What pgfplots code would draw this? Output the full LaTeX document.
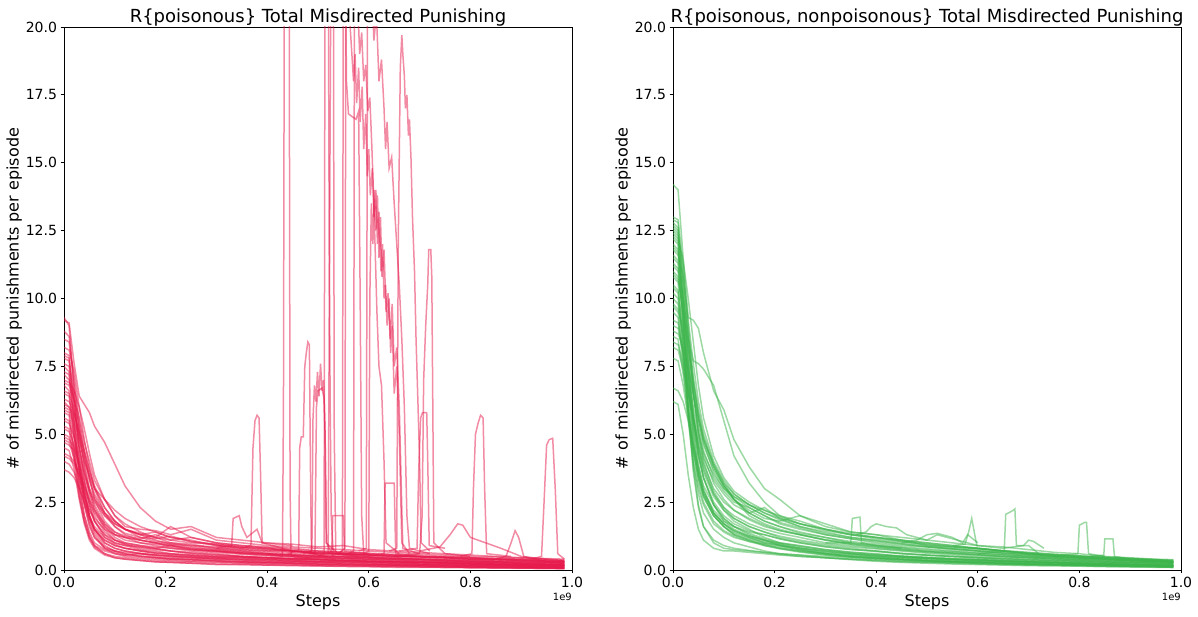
\documentclass[border=0pt]{standalone}
\usepackage{fontspec}
\setmainfont{DejaVu Sans}
\usepackage{pgfplots}
\usepackage{pgfplotstable}
\pgfplotsset{compat=1.18}
\definecolor{lred}{HTML}{E6194B}
\definecolor{lgreen}{HTML}{3CB44B}

\pgfplotstableread[header=true]{
name 0 0.01 0.02 0.03 0.04 0.05 0.06 0.08 0.10 0.12 0.15 0.18 0.21 0.25 0.30 0.35 0.40 0.45 0.50 0.55 0.60 0.65 0.70 0.75 0.80 0.85 0.90 0.95 0.985
L1 9.2 9.1 7.6 6.4 6.1 5.8 5.3 4.7 3.9 3.1 2.3 1.8 1.5 1.6 1.2 1.1 1.0 0.95 0.85 0.9 0.75 0.7 0.65 0.6 0.55 0.5 0.45 0.42 0.4
L2 8.0 7.9 6.0 4.5 3.6 3.0 2.6 2.1 1.8 1.5 1.3 1.4 1.2 1.1 0.9 0.8 0.75 0.7 0.6 0.55 0.5 0.45 0.4 0.35 0.3 0.3 0.25 0.2 0.18
L3 7.5 7.3 5.2 3.6 2.6 1.9 1.5 1.1 0.9 0.8 0.7 0.62 0.55 0.5 0.45 0.42 0.38 0.35 0.32 0.3 0.28 0.25 0.22 0.2 0.18 0.17 0.15 0.12 0.1
L4 6.8 6.6 4.8 3.2 2.0 1.3 0.9 0.6 0.5 0.45 0.4 0.35 0.32 0.3 0.27 0.25 0.22 0.2 0.18 0.17 0.15 0.14 0.12 0.11 0.1 0.09 0.08 0.07 0.06
L5 6.2 6.0 5.5 4.8 4.0 3.5 3.0 2.6 2.2 1.9 1.6 1.4 1.2 1.05 0.95 0.85 0.8 0.7 0.65 0.6 0.55 0.5 0.5 0.45 0.4 0.38 0.35 0.3 0.3
L6 5.8 5.7 4.3 2.8 1.8 1.2 0.9 0.7 0.6 0.55 0.6 0.5 0.45 0.42 0.4 0.35 0.3 0.3 0.28 0.25 0.22 0.2 0.2 0.18 0.15 0.15 0.12 0.1 0.1
L7 5.2 5.1 4.6 3.9 3.2 2.4 1.8 1.3 1.0 0.9 0.85 0.8 0.9 0.75 0.7 0.6 0.55 0.5 0.45 0.42 0.4 0.38 0.35 0.32 0.3 0.28 0.25 0.22 0.2
L8 4.7 4.6 4.4 3.8 3.0 2.0 1.4 0.9 0.7 0.6 0.5 0.45 0.4 0.38 0.35 0.3 0.28 0.25 0.22 0.2 0.18 0.17 0.15 0.14 0.12 0.1 0.1 0.08 0.07
L9 4.2 4.1 3.9 3.5 3.0 2.5 2.1 1.6 1.3 1.1 1.0 0.95 0.9 0.8 0.75 0.65 0.6 0.55 0.5 0.48 0.45 0.4 0.38 0.35 0.32 0.3 0.28 0.25 0.22
L10 3.7 3.6 3.4 3.0 2.5 1.8 1.3 0.8 0.6 0.5 0.45 0.4 0.36 0.32 0.3 0.26 0.24 0.22 0.2 0.18 0.16 0.15 0.14 0.12 0.1 0.1 0.08 0.07 0.06
L11 7.8 7.7 6.5 5.0 3.8 2.9 2.3 1.6 1.2 1.0 0.9 0.8 0.7 0.65 0.6 0.5 0.45 0.42 0.4 0.38 0.35 0.32 0.3 0.28 0.25 0.22 0.2 0.18 0.16
L12 6.5 6.4 5.0 3.7 2.7 2.0 1.6 1.2 1.0 0.9 0.75 0.7 0.6 0.55 0.5 0.46 0.42 0.4 0.38 0.35 0.32 0.3 0.28 0.25 0.22 0.2 0.2 0.18 0.15
L13 5.5 5.4 4.9 4.2 3.5 2.9 2.5 2.0 1.7 1.5 1.3 1.1 0.95 0.85 0.75 0.7 0.6 0.55 0.5 0.45 0.42 0.4 0.38 0.35 0.3 0.28 0.25 0.22 0.2
L14 7.2 7.0 6.3 5.6 4.7 4.0 3.3 2.6 2.0 1.7 1.4 1.2 1.0 0.9 0.8 0.7 0.65 0.6 0.55 0.5 0.48 0.45 0.42 0.4 0.36 0.33 0.3 0.28 0.25
L15 4.5 4.4 3.7 2.6 1.7 1.1 0.8 0.55 0.45 0.4 0.35 0.3 0.28 0.25 0.2 0.2 0.18 0.16 0.15 0.13 0.12 0.1 0.1 0.09 0.08 0.07 0.06 0.05 0.05
L16 6.0 5.9 5.3 4.5 3.6 2.8 2.2 1.5 1.1 0.95 0.8 0.75 0.7 0.6 0.55 0.5 0.45 0.4 0.38 0.35 0.33 0.3 0.28 0.25 0.22 0.2 0.18 0.16 0.15
L17 8.5 8.4 6.8 5.2 4.1 3.3 2.7 2.0 1.6 1.3 1.1 1.0 0.85 0.75 0.7 0.62 0.58 0.55 0.5 0.48 0.45 0.42 0.4 0.37 0.35 0.33 0.3 0.27 0.25
L18 5.0 4.9 4.2 3.3 2.5 1.9 1.5 1.1 0.9 0.8 0.72 0.65 0.6 0.55 0.5 0.48 0.45 0.42 0.4 0.35 0.32 0.3 0.28 0.26 0.24 0.22 0.2 0.18 0.17
L19 4.0 3.9 3.6 3.1 2.4 1.7 1.2 0.8 0.7 0.65 0.6 0.55 0.52 0.48 0.45 0.4 0.38 0.35 0.3 0.3 0.28 0.25 0.22 0.2 0.2 0.18 0.15 0.14 0.12
L20 7.0 6.9 6.6 6.0 5.2 4.3 3.5 2.6 2.0 1.6 1.5 1.45 1.3 1.5 1.1 1.0 0.9 0.85 0.8 0.75 0.7 0.65 0.6 0.55 0.5 0.48 0.45 0.4 0.35
L21 6.3 6.2 5.8 5.0 4.2 3.4 2.8 2.1 1.7 1.5 1.35 1.2 1.6 1.2 1.0 0.9 0.85 0.8 0.7 0.65 0.6 0.55 0.5 0.48 0.45 0.4 0.38 0.35 0.3
L22 5.6 5.5 4.4 3.0 2.0 1.4 1.0 0.75 0.65 0.55 0.5 0.45 0.4 0.37 0.33 0.3 0.27 0.25 0.22 0.2 0.2 0.18 0.16 0.15 0.13 0.12 0.1 0.1 0.08
L23 4.8 4.7 4.1 3.4 2.7 2.2 1.9 1.5 1.3 1.2 1.1 1.0 0.95 0.9 0.85 0.75 0.7 0.7 0.6 0.6 0.55 0.5 0.48 0.45 0.4 0.4 0.35 0.3 0.3
L24 8.8 8.6 7.0 5.5 4.4 3.6 3.0 2.3 1.8 1.5 1.2 1.05 1.0 0.95 0.8 0.75 0.7 0.65 0.6 0.58 0.55 0.5 0.48 0.45 0.4 0.38 0.35 0.32 0.3
L25 9.3 9.0 6.5 4.2 2.8 2.0 1.5 1.0 0.8 0.7 0.6 0.55 0.5 0.45 0.4 0.37 0.33 0.3 0.28 0.25 0.23 0.2 0.18 0.17 0.15 0.13 0.12 0.1 0.09
L26 7.9 7.8 5.6 3.9 2.9 2.2 1.8 1.3 1.1 1.0 0.9 0.85 0.8 0.7 0.65 0.58 0.52 0.48 0.45 0.42 0.4 0.36 0.33 0.3 0.27 0.25 0.22 0.2 0.18
L27 6.6 6.5 5.9 4.9 3.9 3.0 2.4 1.7 1.3 1.2 1.1 1.0 0.9 0.8 0.7 0.65 0.6 0.55 0.52 0.5 0.46 0.42 0.4 0.38 0.35 0.32 0.3 0.28 0.25
L28 5.3 5.2 4.0 2.7 1.8 1.2 0.85 0.6 0.45 0.4 0.35 0.3 0.28 0.25 0.22 0.2 0.18 0.17 0.15 0.14 0.13 0.12 0.11 0.1 0.09 0.08 0.07 0.06 0.05
L29 4.3 4.2 4.0 3.6 3.1 2.6 2.2 1.7 1.4 1.25 1.15 1.3 1.1 1.0 0.95 0.85 0.8 0.7 0.65 0.6 0.58 0.55 0.5 0.48 0.45 0.42 0.4 0.36 0.33
L30 7.6 7.5 6.2 4.6 3.3 2.4 1.8 1.2 0.95 0.8 0.7 0.62 0.58 0.52 0.48 0.45 0.4 0.37 0.34 0.32 0.3 0.28 0.26 0.24 0.22 0.2 0.18 0.16 0.15
L31 6.9 6.8 6.2 5.3 4.3 3.4 2.6 1.8 1.4 1.2 1.0 0.9 0.8 0.75 0.68 0.62 0.56 0.5 0.46 0.42 0.38 0.35 0.32 0.3 0.28 0.26 0.24 0.22 0.2
L32 5.9 5.8 4.9 3.8 2.8 2.0 1.5 1.0 0.8 0.7 0.62 0.56 0.5 0.46 0.42 0.38 0.35 0.32 0.3 0.28 0.26 0.24 0.22 0.2 0.18 0.17 0.15 0.14 0.13
L33 8.2 8.1 7.3 6.0 4.8 3.8 3.0 2.1 1.6 1.35 1.2 1.15 1.25 1.05 0.9 0.82 0.76 0.7 0.65 0.6 0.56 0.52 0.48 0.45 0.42 0.38 0.36 0.33 0.3
L34 4.9 4.8 4.5 4.0 3.3 2.6 2.0 1.4 1.1 0.95 0.85 0.78 0.7 0.62 0.56 0.5 0.46 0.42 0.38 0.35 0.32 0.3 0.28 0.26 0.24 0.22 0.2 0.18 0.16
L35 7.3 7.2 5.4 3.6 2.4 1.6 1.2 0.85 0.7 0.6 0.52 0.46 0.42 0.38 0.34 0.3 0.28 0.26 0.24 0.22 0.2 0.19 0.18 0.16 0.15 0.14 0.13 0.12 0.1
L36 6.1 6.0 5.7 5.1 4.4 3.7 3.1 2.3 1.8 1.5 1.3 1.2 1.1 1.2 1.0 0.9 0.82 0.75 0.7 0.66 0.62 0.58 0.55 0.5 0.46 0.42 0.4 0.36 0.33
}\Lraw
\pgfplotstabletranspose[colnames from=name]{\Lt}{\Lraw}

\pgfplotstableread[header=true]{
name 0 0.01 0.02 0.03 0.04 0.05 0.06 0.08 0.10 0.12 0.15 0.18 0.21 0.25 0.30 0.35 0.40 0.45 0.50 0.55 0.60 0.65 0.70 0.75 0.80 0.85 0.90 0.95 0.985
R1 14.2 14.0 11.5 9.3 9.2 8.9 8.0 6.6 5.9 4.8 3.8 3.0 2.6 2.0 1.7 1.4 1.3 1.1 1.0 0.9 0.8 0.7 0.6 0.55 0.5 0.45 0.4 0.35 0.3
R2 12.9 12.8 10.5 8.5 7.7 7.6 7.4 6.8 5.5 4.2 3.2 2.5 2.0 1.7 1.5 1.3 1.2 1.1 0.9 0.85 0.8 0.7 0.6 0.5 0.45 0.4 0.35 0.32 0.3
R3 12.8 12.6 9.5 6.0 3.8 2.4 1.6 1.0 0.8 0.75 0.7 0.65 0.6 0.55 0.5 0.45 0.4 0.35 0.3 0.28 0.25 0.22 0.2 0.2 0.18 0.15 0.15 0.12 0.1
R4 12.5 12.3 10.2 7.8 5.8 4.6 3.8 2.8 2.2 1.8 1.5 1.2 1.0 0.9 0.75 0.65 0.6 0.5 0.45 0.4 0.38 0.35 0.3 0.28 0.25 0.22 0.2 0.18 0.16
R5 12.0 11.8 10.0 8.2 6.8 5.6 4.8 3.8 3.1 2.6 2.1 1.8 1.6 1.35 1.2 1.0 0.9 0.8 0.7 0.65 0.6 0.55 0.5 0.45 0.4 0.38 0.35 0.3 0.28
R6 11.5 11.3 9.0 6.6 4.8 3.6 2.8 2.0 1.6 1.3 1.1 0.95 0.8 0.7 0.6 0.5 0.45 0.4 0.35 0.32 0.3 0.28 0.25 0.22 0.2 0.18 0.16 0.15 0.13
R7 11.0 10.8 9.5 8.0 6.5 5.2 4.4 3.4 2.9 2.5 2.3 2.0 1.7 1.5 1.3 1.15 1.0 0.9 0.85 0.75 0.7 0.62 0.55 0.5 0.45 0.4 0.36 0.32 0.3
R8 10.5 10.3 8.8 7.0 5.5 4.2 3.4 2.4 1.8 1.5 1.25 1.1 0.95 0.8 0.7 0.6 0.55 0.5 0.45 0.4 0.36 0.32 0.3 0.27 0.25 0.22 0.2 0.18 0.17
R9 10.0 9.8 8.5 7.2 6.0 5.0 4.3 3.5 3.0 2.7 2.4 2.2 2.0 1.8 1.5 1.3 1.2 1.05 0.95 0.85 0.8 0.7 0.62 0.55 0.5 0.45 0.4 0.36 0.32
R10 9.5 9.3 7.5 5.5 3.9 2.8 2.1 1.5 1.2 1.0 0.85 0.7 0.6 0.55 0.45 0.4 0.35 0.3 0.28 0.25 0.22 0.2 0.18 0.17 0.15 0.14 0.12 0.11 0.1
R11 9.0 8.9 8.0 6.8 5.6 4.5 3.7 2.8 2.3 2.0 1.7 1.5 1.35 1.2 1.0 0.9 0.8 0.72 0.65 0.6 0.55 0.5 0.45 0.4 0.36 0.33 0.3 0.27 0.25
R12 8.6 8.5 7.2 5.8 4.6 3.6 2.9 2.2 1.8 1.6 1.4 1.3 1.15 1.0 0.85 0.75 0.7 0.6 0.55 0.5 0.45 0.42 0.38 0.35 0.32 0.3 0.27 0.25 0.22
R13 8.2 8.1 7.4 6.5 5.6 4.8 4.1 3.3 2.8 2.4 2.1 2.3 1.9 1.6 1.4 1.2 1.1 1.0 0.9 0.8 0.75 0.68 0.6 0.55 0.5 0.45 0.42 0.38 0.35
R14 12.2 12.0 9.8 7.4 5.2 3.9 3.0 2.1 1.7 1.4 1.2 1.0 0.9 0.75 0.62 0.55 0.5 0.45 0.4 0.35 0.32 0.3 0.27 0.25 0.22 0.2 0.18 0.16 0.15
R15 6.7 6.6 6.2 5.5 4.6 3.8 3.1 2.4 1.9 1.6 1.3 1.1 0.9 0.75 0.6 0.5 0.45 0.4 0.35 0.3 0.28 0.25 0.22 0.2 0.18 0.16 0.15 0.13 0.12
R16 6.2 6.1 5.0 3.5 2.3 1.5 1.1 0.8 0.7 0.7 0.65 0.6 0.55 0.5 0.45 0.38 0.32 0.28 0.25 0.22 0.2 0.18 0.16 0.15 0.14 0.12 0.11 0.1 0.09
R17 11.8 11.6 10.8 9.2 7.6 6.2 5.2 4.0 3.3 2.8 2.4 2.1 1.9 1.7 1.5 1.35 1.2 1.1 1.0 0.9 0.8 0.72 0.65 0.58 0.52 0.48 0.43 0.38 0.35
R18 10.8 10.6 8.2 5.8 4.0 3.0 2.4 1.7 1.4 1.2 1.05 0.95 0.85 0.72 0.6 0.52 0.46 0.4 0.36 0.33 0.3 0.27 0.24 0.22 0.2 0.19 0.17 0.15 0.14
R19 9.8 9.6 8.8 7.6 6.4 5.4 4.6 3.7 3.1 2.7 2.3 2.0 1.75 1.55 1.3 1.15 1.05 0.95 0.85 0.78 0.7 0.62 0.56 0.5 0.45 0.42 0.38 0.34 0.3
R20 11.2 11.0 9.2 7.2 5.6 4.4 3.6 2.7 2.2 1.9 1.6 1.4 1.25 1.1 0.95 0.85 0.78 0.7 0.62 0.56 0.5 0.46 0.42 0.38 0.34 0.3 0.28 0.25 0.22
R21 7.8 7.7 6.8 5.6 4.4 3.4 2.7 2.0 1.6 1.3 1.1 0.9 0.78 0.66 0.55 0.48 0.42 0.37 0.33 0.3 0.27 0.24 0.22 0.2 0.18 0.16 0.15 0.13 0.12
R22 12.6 12.4 11.0 9.0 7.0 5.6 4.7 3.6 3.0 2.6 2.2 1.9 1.8 2.0 1.6 1.4 1.3 1.2 1.1 1.0 0.9 0.85 0.75 0.65 0.6 0.5 0.45 0.4 0.38
R23 10.2 10.0 8.0 6.0 4.4 3.4 2.7 2.0 1.6 1.35 1.15 1.0 0.9 0.8 0.65 0.58 0.5 0.45 0.42 0.38 0.35 0.32 0.3 0.27 0.25 0.23 0.2 0.18 0.16
R24 8.8 8.7 8.2 7.4 6.5 5.6 4.8 3.9 3.2 2.6 2.0 1.7 1.5 1.3 1.1 0.95 0.85 0.75 0.68 0.62 0.56 0.5 0.46 0.42 0.38 0.34 0.31 0.28 0.26
R25 13.0 12.9 11.2 8.8 6.6 5.0 4.0 2.9 2.3 1.9 1.6 1.4 1.2 1.05 0.9 0.8 0.7 0.62 0.55 0.5 0.45 0.4 0.36 0.33 0.3 0.27 0.25 0.22 0.2
R26 11.9 11.7 9.9 7.6 5.7 4.3 3.4 2.4 1.9 1.6 1.35 1.15 1.0 0.88 0.75 0.66 0.58 0.52 0.47 0.43 0.4 0.36 0.33 0.3 0.27 0.25 0.23 0.2 0.18
R27 10.9 10.7 9.6 8.2 6.9 5.8 4.9 3.8 3.1 2.6 2.1 1.8 1.6 1.4 1.2 1.05 0.95 0.85 0.78 0.7 0.64 0.58 0.52 0.48 0.44 0.4 0.36 0.33 0.3
R28 9.7 9.5 7.8 5.9 4.3 3.2 2.5 1.8 1.45 1.25 1.05 0.9 0.8 0.68 0.56 0.48 0.42 0.38 0.34 0.3 0.27 0.25 0.22 0.2 0.18 0.17 0.15 0.14 0.12
R29 12.7 12.5 10.6 8.4 6.5 5.1 4.2 3.2 2.6 2.2 1.85 1.6 1.45 1.3 1.1 0.95 0.85 0.76 0.68 0.62 0.56 0.5 0.46 0.42 0.38 0.35 0.32 0.3 0.27
R30 11.3 11.1 10.0 8.6 7.1 5.9 5.0 3.9 3.2 2.8 2.4 2.1 1.85 1.6 1.35 1.2 1.08 0.96 0.86 0.78 0.7 0.64 0.58 0.52 0.47 0.43 0.39 0.35 0.32
R31 10.4 10.2 8.4 6.3 4.6 3.5 2.8 2.1 1.7 1.45 1.25 1.1 0.98 0.85 0.72 0.62 0.55 0.5 0.45 0.41 0.38 0.35 0.32 0.29 0.26 0.24 0.22 0.2 0.18
R32 9.2 9.1 8.0 6.6 5.3 4.2 3.4 2.5 2.0 1.7 1.45 1.3 1.15 1.0 0.86 0.76 0.68 0.6 0.54 0.5 0.46 0.42 0.38 0.35 0.32 0.29 0.27 0.25 0.22
R33 12.3 12.1 9.0 5.8 3.6 2.3 1.6 1.1 0.9 0.8 0.72 0.65 0.58 0.5 0.45 0.4 0.36 0.32 0.3 0.27 0.25 0.22 0.2 0.19 0.17 0.16 0.14 0.13 0.12
R34 8.4 8.3 7.6 6.6 5.5 4.6 3.9 3.0 2.5 2.2 1.9 1.65 1.45 1.3 1.12 1.0 0.9 0.82 0.74 0.68 0.62 0.56 0.5 0.46 0.42 0.38 0.35 0.32 0.29
R35 11.6 11.4 9.4 7.0 5.0 3.7 2.9 2.1 1.7 1.45 1.2 1.05 0.93 0.8 0.68 0.6 0.52 0.47 0.42 0.38 0.35 0.32 0.29 0.26 0.24 0.22 0.2 0.18 0.16
R36 12.4 12.2 11.4 10.0 8.4 6.8 5.6 4.2 3.4 2.9 2.5 2.2 1.95 1.7 1.45 1.3 1.15 1.05 0.95 0.86 0.78 0.7 0.64 0.58 0.52 0.47 0.42 0.38 0.35
}\Rraw
\pgfplotstabletranspose[colnames from=name]{\Rt}{\Rraw}

\pgfplotsset{panel/.style={
  scale only axis, width=508pt, height=543pt,
  xmin=0, xmax=1, ymin=0, ymax=20,
  xtick={0,0.2,0.4,0.6,0.8,1}, xticklabels={0.0,0.2,0.4,0.6,0.8,1.0},
  ytick={0,2.5,5,7.5,10,12.5,15,17.5,20},
  yticklabels={0.0,2.5,5.0,7.5,10.0,12.5,15.0,17.5,20.0},
  tick align=outside, xtick pos=left, ytick pos=left,
  major tick length=3.5pt,
  tick style={black, line width=0.8pt},
  axis line style={line width=0.8pt},
  ticklabel style={font=\fontsize{14}{16}\selectfont},
  label style={font=\fontsize{16}{19}\selectfont},
  title style={font=\fontsize{18}{21}\selectfont, yshift=-9pt},
  xlabel={Steps},
  ylabel={\# of misdirected punishments per episode},
  ylabel style={yshift=-3pt},
  every axis plot/.append style={line width=1.5pt, opacity=0.5},
}}

\begin{document}
\begin{tikzpicture}
\useasboundingbox (-64pt,-47pt) rectangle (1134pt,570pt);
\begin{axis}[panel, name=PL, at={(0,0)}, anchor=south west,
  title={R\{poisonous\} Total Misdirected Punishing}]
\pgfplotsinvokeforeach{1,...,36}{\addplot[lred] table[x=colnames, y=L#1]{\Lt};}
\addplot[lred] coordinates {(0.30,0.9)(0.35,0.8)(0.368,0.9)(0.372,4.5)(0.376,5.5)(0.38,5.7)(0.384,5.6)(0.387,3.5)(0.39,1.0)(0.45,0.7)(0.5,0.6)};
\addplot[lred] coordinates {(0.40,0.6)(0.43,0.5)(0.432,6)(0.434,25)(0.443,25)(0.445,3)(0.447,0.5)(0.5,0.4)};
\addplot[lred] coordinates {(0.65,0.5)(0.70,0.6)(0.705,2)(0.708,7.0)(0.712,9.0)(0.716,10.5)(0.718,11.8)(0.722,11.8)(0.724,10.8)(0.726,6)(0.728,1.0)(0.75,0.6)(0.8,0.5)};
\addplot[lred] coordinates {(0.66,0.7)(0.695,0.8)(0.698,3.5)(0.702,5.6)(0.706,5.8)(0.714,5.8)(0.716,4)(0.719,0.9)(0.75,0.8)};
\addplot[lred] coordinates {(0.78,0.5)(0.803,0.6)(0.806,3.0)(0.81,5.0)(0.815,5.4)(0.82,5.7)(0.825,5.6)(0.828,3)(0.832,0.6)(0.88,0.5)};
\addplot[lred] coordinates {(0.92,0.4)(0.94,0.5)(0.945,2.5)(0.95,4.6)(0.955,4.8)(0.962,4.85)(0.967,3)(0.972,0.6)(0.985,0.4)};
\addplot[lred] coordinates {(0.70,0.7)(0.74,0.85)(0.76,1.3)(0.775,1.7)(0.785,1.65)(0.80,1.2)(0.83,1.0)(0.86,0.8)(0.9,0.5)(0.95,0.4)(0.985,0.35)};
\addplot[lred] coordinates {(0.85,0.4)(0.87,0.5)(0.88,1.0)(0.888,1.45)(0.895,1.2)(0.905,0.5)(0.95,0.3)(0.985,0.25)};
\addplot[lred] coordinates {(0.50,0.5)(0.512,0.6)(0.514,25)(0.52,25)(0.522,12)(0.524,6)(0.526,2)(0.53,0.6)(0.6,0.5)};
\addplot[lred] coordinates {(0.52,0.6)(0.526,25)(0.53,25)(0.532,5)(0.535,0.6)(0.58,0.5)};
\addplot[lred] coordinates {(0.54,0.6)(0.553,0.8)(0.555,25)(0.56,21)(0.565,19.5)(0.57,18.0)(0.573,19.0)(0.576,17.2)(0.58,18.5)(0.583,16.5)(0.587,17.8)(0.59,15.5)(0.594,16.8)(0.597,14.5)(0.60,15.5)(0.603,13.8)(0.607,14.8)(0.61,13.0)(0.614,14.0)(0.617,12.0)(0.62,13.2)(0.624,11.0)(0.627,12.0)(0.63,10.0)(0.633,10.5)(0.636,9.0)(0.64,10.0)(0.643,8.0)(0.646,9.0)(0.65,6.5)(0.655,7.5)(0.66,5.0)(0.665,1.0)(0.68,0.6)};
\addplot[lred] coordinates {(0.58,0.7)(0.595,0.8)(0.598,25)(0.605,22)(0.61,19.5)(0.615,20.5)(0.62,18.0)(0.625,18.8)(0.63,17.0)(0.633,15.5)(0.636,16.5)(0.64,14.8)(0.645,15.2)(0.65,13.5)(0.655,12.0)(0.66,10.5)(0.665,8.5)(0.67,6.0)(0.675,2.0)(0.68,0.8)(0.72,0.6)};
\addplot[lred] coordinates {(0.64,0.7)(0.655,0.8)(0.658,12)(0.662,18.5)(0.665,19.7)(0.667,19.0)(0.67,18.2)(0.672,17.0)(0.675,17.5)(0.678,16.0)(0.68,16.6)(0.683,15.2)(0.686,13.0)(0.69,11.0)(0.693,8.5)(0.697,6.0)(0.70,4.0)(0.703,1.0)(0.72,0.7)};
\addplot[lred] coordinates {(0.54,0.6)(0.548,0.7)(0.55,25)(0.553,25)(0.556,18)(0.56,16.8)(0.567,16.7)(0.575,16.6)(0.58,16.9)(0.583,10)(0.586,2)(0.59,0.6)};
\addplot[lred] coordinates {(0.59,0.6)(0.60,0.7)(0.602,10)(0.605,13.5)(0.608,12.0)(0.611,14.0)(0.614,12.5)(0.617,13.8)(0.62,11.5)(0.623,13.0)(0.626,10.8)(0.63,11.8)(0.634,9.5)(0.638,10.2)(0.642,8.5)(0.646,9.8)(0.65,7.5)(0.655,8.2)(0.66,6.0)(0.664,3.0)(0.667,0.8)(0.70,0.6)};
\addplot[lred] coordinates {(0.56,0.6)(0.57,0.7)(0.572,25)(0.578,21)(0.582,19)(0.586,19.8)(0.59,18)(0.594,18.6)(0.598,16.9)(0.602,17.4)(0.606,15.6)(0.61,13.5)(0.613,11.5)(0.616,9.5)(0.62,7.5)(0.625,6.8)(0.63,4.0)(0.634,1.0)(0.66,0.6)};
\addplot[lred] coordinates {(0.44,0.6)(0.462,0.7)(0.464,4.5)(0.467,4.9)(0.471,4.9)(0.474,7.5)(0.477,8.0)(0.48,8.4)(0.483,8.3)(0.485,4.0)(0.487,0.6)(0.52,0.5)};
\addplot[lred] coordinates {(0.47,0.6)(0.488,0.7)(0.49,5.5)(0.493,6.8)(0.496,6.2)(0.499,7.3)(0.502,6.4)(0.505,7.6)(0.508,6.6)(0.511,7.0)(0.514,5.0)(0.516,1.0)(0.54,0.6)};
\addplot[lred] coordinates {(0.48,0.6)(0.494,0.6)(0.497,6.0)(0.5,6.6)(0.508,6.7)(0.512,6.3)(0.514,5.0)(0.517,1)(0.53,0.5)};
\addplot[lred] coordinates {(0.52,0.6)(0.527,0.7)(0.529,2.0)(0.55,2.0)(0.552,0.7)(0.6,0.6)};
\addplot[lred] coordinates {(0.6,0.5)(0.63,0.6)(0.632,3.2)(0.65,3.2)(0.653,0.6)(0.7,0.5)};
\addplot[lred] coordinates {(0.3,0.8)(0.33,0.9)(0.333,1.9)(0.345,2.0)(0.35,1.6)(0.36,1.2)(0.38,1.5)(0.39,1.0)(0.45,0.9)};
\end{axis}
\node[anchor=north east, font=\fontsize{10}{12}\selectfont, inner sep=0pt] at ([yshift=-23pt]PL.south east) {1e9};
\begin{axis}[panel, name=PR, at={(609pt,0)}, anchor=south west,
  title={R\{poisonous, nonpoisonous\} Total Misdirected Punishing}]
\pgfplotsinvokeforeach{1,...,36}{\addplot[lgreen] table[x=colnames, y=R#1]{\Rt};}
\addplot[lgreen] coordinates {(0.30,1.0)(0.35,1.0)(0.353,1.9)(0.368,1.95)(0.371,1.0)(0.40,0.9)(0.45,0.8)};
\addplot[lgreen] coordinates {(0.36,1.3)(0.38,1.4)(0.39,1.6)(0.40,1.7)(0.42,1.6)(0.44,1.55)(0.46,1.3)(0.5,1.1)(0.52,1.3)(0.54,1.2)(0.58,1.0)(0.6,0.9)};
\addplot[lgreen] coordinates {(0.55,0.9)(0.575,0.95)(0.582,1.4)(0.588,1.9)(0.592,1.5)(0.598,0.9)(0.65,0.8)};
\addplot[lgreen] coordinates {(0.6,0.6)(0.652,0.7)(0.655,2.05)(0.67,2.2)(0.673,2.25)(0.676,0.9)(0.7,0.9)(0.72,0.6)};
\addplot[lgreen] coordinates {(0.75,0.5)(0.797,0.6)(0.80,1.65)(0.81,1.75)(0.814,1.75)(0.818,0.6)(0.85,0.5)};
\addplot[lgreen] coordinates {(0.82,0.5)(0.848,0.55)(0.85,1.15)(0.866,1.15)(0.869,0.5)(0.9,0.4)};
\addplot[lgreen] coordinates {(0.45,1.0)(0.48,1.1)(0.5,1.3)(0.52,1.35)(0.55,1.2)(0.57,1.0)(0.58,1.3)(0.6,1.0)};
\addplot[lgreen] coordinates {(0.65,0.8)(0.69,0.9)(0.7,1.1)(0.71,1.05)(0.73,0.8)};
\end{axis}
\node[anchor=north east, font=\fontsize{10}{12}\selectfont, inner sep=0pt] at ([yshift=-23pt]PR.south east) {1e9};
\end{tikzpicture}
\end{document}
